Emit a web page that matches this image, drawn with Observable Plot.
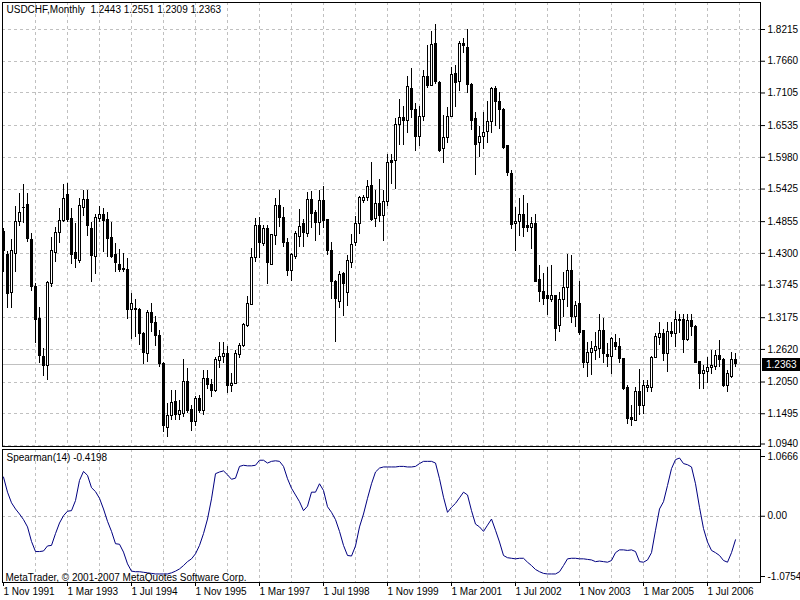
<!DOCTYPE html>
<html><head><meta charset="utf-8">
<script src="https://cdn.jsdelivr.net/npm/d3@7"></script>
<script src="https://cdn.jsdelivr.net/npm/@observablehq/plot@0.6"></script>
<style>
body{margin:0;background:#fff;}
#chart{position:relative;width:800px;height:600px;background:#fff;overflow:hidden;}
#chart svg{position:absolute;left:0;}
</style></head><body><div id="chart"></div>
<script>
// USDCHF monthly, Nov 1991 .. Feb 2007 (one entry per month)
const open = [
1.4671,1.4280,1.3610,1.4292,1.4857,1.5091,1.5149,1.4537,1.3709,1.3155,1.2485,1.2327,1.3767,1.4304,1.4659,1.4863,1.5312,1.4904,1.4309,1.4175,1.5091,1.5225,1.4729,1.4239,1.4904,1.4974,1.4875,1.4566,1.4263,1.4105,1.4030,1.4012,
1.3312,1.3324,1.3318,1.2892,1.2542,1.3254,1.3085,1.2851,1.2367,1.1248,1.1464,1.1697,1.1481,1.1493,1.2047,1.1563,1.1347,1.1755,1.1540,1.2105,1.2006,1.1889,1.2426,1.2484,1.2542,1.1983,1.2018,1.2525,1.2688,1.3026,1.3405,1.4221,
1.4782,1.4461,1.4718,1.4105,1.4601,1.5126,1.4927,1.4473,1.3989,1.4239,1.4589,1.4805,1.4636,1.5231,1.5009,1.4834,1.5213,1.4881,1.4339,1.3802,1.3452,1.3936,1.3610,1.4140,1.4473,1.4811,1.5213,1.5260,1.5475,1.4898,1.5155,1.4957,
1.5200,1.5912,1.5912,1.6541,1.6675,1.6617,1.7183,1.6815,1.6337,1.6687,1.7387,1.7224,1.7970,1.7288,1.6122,1.6320,1.6681,1.7445,1.7299,1.7970,1.7894,1.7253,1.6658,1.6232,1.6337,1.6425,1.6600,1.7183,1.6949,1.6815,1.6174,1.5696,
1.4811,1.4846,1.4974,1.4776,1.4741,1.4817,1.3826,1.3621,1.3546,1.3493,1.3546,1.3038,1.3493,1.3697,1.4000,1.3184,1.3406,1.2934,1.2386,1.2560,1.2601,1.2630,1.2951,1.2531,1.2485,1.2735,1.2660,1.2455,1.1942,1.1418,1.1377,1.1884,
1.1628,1.1949,1.1949,1.2473,1.2823,1.2893,1.2532,1.2922,1.2893,1.3138,1.3126,1.2788,1.3115,1.3021,1.2397,1.2182,1.2234,1.2298,1.2310,1.2497,1.2438,1.1978,1.2135,1.2443];
const high = [
1.4729,1.4333,1.4537,1.5120,1.5353,1.5505,1.5341,1.4642,1.3767,1.3359,1.2630,1.3808,1.4578,1.4758,1.5079,1.5510,1.5522,1.5079,1.4817,1.5266,1.5400,1.5400,1.4846,1.4986,1.5126,1.5079,1.5009,1.4846,1.4467,1.4368,1.4292,1.4204,
1.3592,1.3487,1.3329,1.2921,1.3300,1.3417,1.3195,1.2950,1.2397,1.1668,1.1901,1.1901,1.1726,1.2443,1.2280,1.1639,1.1796,1.1814,1.2251,1.2251,1.2088,1.2484,1.2746,1.2735,1.2677,1.2193,1.2601,1.2729,1.3079,1.3545,1.4379,1.4904,
1.4922,1.4793,1.4793,1.4630,1.5260,1.5405,1.5096,1.4560,1.4298,1.4677,1.5067,1.4892,1.5365,1.5376,1.5056,1.5405,1.5464,1.4898,1.4490,1.3831,1.3977,1.3965,1.4257,1.4630,1.4939,1.5289,1.5318,1.5580,1.5889,1.5405,1.5592,1.5405,
1.6028,1.6028,1.6658,1.6990,1.6862,1.7387,1.7532,1.6920,1.6862,1.7503,1.7929,1.8185,1.8302,1.7299,1.6705,1.6845,1.7544,1.7591,1.8011,1.8057,1.8215,1.7270,1.6757,1.6512,1.6757,1.6949,1.7200,1.7212,1.7113,1.6833,1.6192,1.5754,
1.5108,1.5254,1.5312,1.5166,1.4933,1.4974,1.4088,1.3954,1.4047,1.4088,1.3560,1.3621,1.3971,1.4280,1.4263,1.3458,1.3808,1.2951,1.2747,1.2765,1.2922,1.3225,1.3155,1.2718,1.2834,1.2875,1.2805,1.2467,1.1989,1.1639,1.1960,1.2269,
1.2077,1.2077,1.2497,1.2893,1.3097,1.2963,1.3097,1.3097,1.3284,1.3231,1.3231,1.3231,1.3231,1.3039,1.2415,1.2339,1.2485,1.2601,1.2601,1.2776,1.2456,1.2252,1.2572,1.2551];
const low = [
1.3971,1.3342,1.3342,1.3971,1.4770,1.4822,1.4496,1.3639,1.2718,1.2368,1.2152,1.2082,1.3709,1.4135,1.4467,1.4834,1.4834,1.4105,1.4041,1.4117,1.4945,1.4601,1.3796,1.3930,1.4846,1.4309,1.4234,1.4204,1.3971,1.3971,1.3971,1.3138,
1.2787,1.2834,1.2688,1.2350,1.2397,1.2921,1.2671,1.2309,1.1172,1.1085,1.1376,1.1376,1.1376,1.1423,1.1493,1.1190,1.1271,1.1493,1.1464,1.1913,1.1784,1.1872,1.2280,1.2379,1.1843,1.1872,1.2006,1.2467,1.2659,1.3009,1.3388,1.4146,
1.4210,1.4414,1.3761,1.4094,1.4443,1.4752,1.4403,1.3890,1.3814,1.4193,1.4397,1.4397,1.4572,1.4735,1.4513,1.4618,1.4735,1.4269,1.3493,1.2735,1.3336,1.3202,1.3377,1.4035,1.4414,1.4630,1.5172,1.5213,1.4852,1.4747,1.4834,1.4513,
1.5125,1.5504,1.5416,1.6192,1.6180,1.6396,1.6658,1.6087,1.6162,1.6611,1.7183,1.7212,1.7253,1.6063,1.5871,1.6221,1.6670,1.6845,1.7136,1.7795,1.7095,1.6454,1.5655,1.5970,1.6122,1.6221,1.6396,1.6512,1.6471,1.6122,1.5638,1.4722,
1.4333,1.4595,1.4583,1.4671,1.4368,1.3785,1.3435,1.3388,1.3213,1.3447,1.2765,1.2922,1.3184,1.3359,1.3068,1.3009,1.2864,1.2281,1.2135,1.2164,1.2426,1.2455,1.2368,1.2310,1.2182,1.2601,1.2368,1.1902,1.1307,1.1278,1.1365,1.1464,
1.1476,1.1873,1.1873,1.2456,1.2689,1.2415,1.2223,1.2835,1.2660,1.2893,1.2543,1.2765,1.2846,1.2368,1.1914,1.1914,1.2019,1.2182,1.2252,1.2310,1.1949,1.1873,1.2106,1.2309];
const close = [
1.4333,1.3592,1.4333,1.4857,1.5003,1.5102,1.4543,1.3709,1.3138,1.2502,1.2339,1.3779,1.4333,1.4659,1.4869,1.5254,1.4875,1.4280,1.4193,1.5137,1.5225,1.4776,1.4251,1.4927,1.4974,1.4863,1.4554,1.4234,1.4135,1.4006,1.4006,1.3318,
1.3417,1.3306,1.2892,1.2554,1.3259,1.3079,1.2851,1.2367,1.1277,1.1464,1.1680,1.1481,1.1540,1.2047,1.1551,1.1347,1.1755,1.1540,1.2105,1.2006,1.1889,1.2437,1.2496,1.2542,1.1989,1.2018,1.2542,1.2688,1.3055,1.3417,1.4221,1.4787,
1.4473,1.4718,1.4123,1.4618,1.5126,1.4922,1.4473,1.3989,1.4269,1.4630,1.4764,1.4659,1.5231,1.4997,1.4834,1.5213,1.4863,1.4339,1.3791,1.3499,1.3930,1.3756,1.4164,1.4455,1.4822,1.5260,1.5277,1.5464,1.4892,1.5155,1.4957,1.5190,
1.5888,1.5877,1.6553,1.6675,1.6617,1.7212,1.6804,1.6337,1.6687,1.7387,1.7224,1.7952,1.7299,1.6092,1.6320,1.6687,1.7428,1.7288,1.7970,1.7929,1.7253,1.6611,1.6192,1.6337,1.6407,1.6600,1.7183,1.6949,1.6804,1.6151,1.5708,1.4792,
1.4857,1.4974,1.4741,1.4741,1.4817,1.3808,1.3621,1.3505,1.3505,1.3546,1.2969,1.3493,1.3697,1.4000,1.3184,1.3388,1.2904,1.2386,1.2560,1.2619,1.2660,1.2951,1.2543,1.2485,1.2805,1.2660,1.2444,1.1931,1.1406,1.1394,1.1872,1.1628,
1.1972,1.1984,1.2473,1.2835,1.2893,1.2532,1.2922,1.2893,1.3138,1.3115,1.2788,1.3115,1.3021,1.2380,1.2182,1.2240,1.2298,1.2322,1.2497,1.2438,1.1972,1.2182,1.2438,1.2363];
// Spearman(14) indicator, one value per month
const spearman = [
0.70,0.43,0.24,0.13,0.04,-0.06,-0.19,-0.45,-0.63,-0.63,-0.62,-0.53,-0.52,-0.31,-0.12,0.01,0.09,0.10,0.28,0.64,0.80,0.73,0.51,0.44,0.32,0.13,-0.09,-0.27,-0.49,-0.50,-0.64,-0.85,
-0.98,-0.99,-0.99,-1.00,-1.01,-1.02,-1.03,-1.03,-1.03,-1.03,-1.01,-0.98,-0.94,-0.88,-0.81,-0.76,-0.67,-0.52,-0.31,-0.05,0.31,0.76,0.79,0.81,0.74,0.66,0.68,0.89,0.91,0.90,0.90,0.91,
1.00,1.00,0.95,0.98,0.99,0.98,0.89,0.67,0.50,0.38,0.26,0.10,0.18,0.43,0.43,0.58,0.46,0.17,0.07,-0.06,-0.27,-0.52,-0.70,-0.71,-0.53,-0.19,0.04,0.32,0.58,0.79,0.86,0.88,
0.88,0.88,0.88,0.89,0.89,0.88,0.88,0.89,0.94,0.98,0.98,0.98,0.95,0.67,0.34,0.07,0.16,0.23,0.33,0.43,0.38,0.10,-0.14,-0.19,-0.27,-0.16,-0.05,-0.25,-0.46,-0.70,-0.74,-0.75,
-0.76,-0.75,-0.75,-0.82,-0.88,-0.95,-0.99,-1.02,-1.03,-1.03,-1.03,-0.99,-0.88,-0.76,-0.75,-0.75,-0.76,-0.76,-0.77,-0.78,-0.81,-0.80,-0.81,-0.82,-0.79,-0.65,-0.60,-0.60,-0.61,-0.60,-0.63,-0.81,
-0.82,-0.78,-0.65,-0.25,0.13,0.26,0.55,0.85,1.01,1.04,0.94,0.92,0.88,0.58,0.16,-0.22,-0.46,-0.61,-0.65,-0.70,-0.79,-0.82,-0.65,-0.4198];
const priceTicks = ["1.8215","1.7660","1.7105","1.6535","1.5980","1.5425","1.4855","1.4300","1.3745","1.3175","1.2620","1.2050","1.1495","1.0940"];
const spearTicks = ["1.0666","0.00","-1.0754"];
const dateLabels = ["1 Nov 1991","1 Mar 1993","1 Jul 1994","1 Nov 1995","1 Mar 1997","1 Jul 1998","1 Nov 1999","1 Mar 2001","1 Jul 2002","1 Nov 2003","1 Mar 2005","1 Jul 2006"];
const title = "USDCHF,Monthly  1.2443 1.2551 1.2309 1.2363";
const spearTitle = "Spearman(14) -0.4198";
const footer = "MetaTrader, \u00A9 2001-2007 MetaQuotes Software Corp.";

const bars = open.map((o, i) => ({i, open: o, high: high[i], low: low[i], close: close[i]}));
const bull = bars.filter(d => d.close >= d.open);
const bear = bars.filter(d => d.close < d.open);
const lastClose = close[close.length - 1];
const dateIdx = dateLabels.map((_, k) => k * 16);
const gridIdx = d3.range(8, 189, 8);
const pVals = priceTicks.map(Number);
const sVals = spearTicks.map(Number);
const font = "'Liberation Sans', Arial, sans-serif";
const xScale = {domain: [0, 189.25], range: [3, 760], axis: null};
const grid = {stroke: "#c0c0c0", strokeDasharray: "3,3", strokeOpacity: 1};
const crisp = {shapeRendering: "crispEdges"};

const main = Plot.plot({
  width: 800, height: 449,
  marginTop: 2, marginLeft: 2, marginRight: 40, marginBottom: 3,
  style: {fontFamily: font, fontSize: "10px", background: "white", color: "black"},
  x: xScale,
  y: {domain: [1.094, 1.8215], range: [445, 29], axis: null},
  marks: [
    Plot.ruleX(gridIdx, {x: d => d, ...grid, ...crisp}),
    Plot.ruleY(pVals, {y: d => d, ...grid, ...crisp}),
    Plot.ruleY([lastClose], {y: d => d, stroke: "#c0c0c0", ...crisp}),
    Plot.ruleX(bars, {x: "i", y1: "low", y2: "high", stroke: "black", ...crisp}),
    Plot.rect(bull, {x1: d => d.i - 0.25, x2: d => d.i + 0.25, y1: "open", y2: "close", dx: 0.5, fill: "white", stroke: "black", ...crisp}),
    Plot.rect(bear, {x1: d => d.i - 0.25, x2: d => d.i + 0.25, y1: "open", y2: "close", dx: 0.5, fill: "black", stroke: "black", ...crisp}),
    Plot.frame({stroke: "black", ...crisp}),
    Plot.axisY(pVals.slice(0, -1), {anchor: "right", tickSize: 4, tickPadding: 3, tickFormat: d => d.toFixed(4), label: null}),
    Plot.axisY(pVals.slice(-1), {anchor: "right", tickSize: 4, tickPadding: 3, dy: -1.5, tickFormat: d => d.toFixed(4), label: null}),
    Plot.text([title], {frameAnchor: "top-left", dx: 4, dy: 3, textAnchor: "start", lineAnchor: "top", fill: "black"}),
    (index, scales, values, dim) => {
      const g = d3.create("svg:g");
      const y = Math.round(scales.y(lastClose));
      const x0 = dim.width - dim.marginRight + 2;
      g.append("rect").attr("x", x0).attr("y", y - 6).attr("width", dim.width - x0).attr("height", 13).attr("fill", "black");
      g.append("text").attr("x", x0 + 4).attr("y", y + 1).attr("dy", "0.32em").attr("fill", "white")
        .attr("text-anchor", "start").attr("font-family", font).attr("font-size", 10).text(lastClose.toFixed(4));
      return g.node();
    }
  ]
});
main.style.top = "0px";

const spData = spearman.map((v, i) => ({i, v}));
const lower = Plot.plot({
  width: 800, height: 151,
  marginTop: 0, marginLeft: 2, marginRight: 40, marginBottom: 18,
  style: {fontFamily: font, fontSize: "10px", background: "white", color: "black"},
  x: xScale,
  y: {domain: [-1.0754, 1.0666], range: [127, 7], axis: null},
  marks: [
    Plot.ruleX(gridIdx, {x: d => d, ...grid, ...crisp}),
    Plot.ruleY([0], {y: d => d, ...grid, ...crisp}),
    Plot.line(spData, {x: "i", y: "v", stroke: "#000080", strokeWidth: 1}),
    Plot.frame({stroke: "black", ...crisp}),
    Plot.axisY(sVals, {anchor: "right", tickSize: 4, tickPadding: 3, tickFormat: (d) => spearTicks[sVals.indexOf(d)], label: null}),
    Plot.axisX(dateIdx, {anchor: "bottom", tickSize: 4, tickPadding: 1, textAnchor: "start", tickFormat: d => dateLabels[d / 16], label: null}),
    Plot.text([spearTitle], {frameAnchor: "top-left", dx: 4, dy: 4, textAnchor: "start", lineAnchor: "top", fill: "black"}),
    Plot.text([footer], {frameAnchor: "bottom-left", dx: 3, dy: -2, textAnchor: "start", lineAnchor: "bottom", fill: "black"})
  ]
});
lower.style.top = "449px";

const host = document.getElementById("chart");
host.appendChild(main);
host.appendChild(lower);
</script>
</body></html>
